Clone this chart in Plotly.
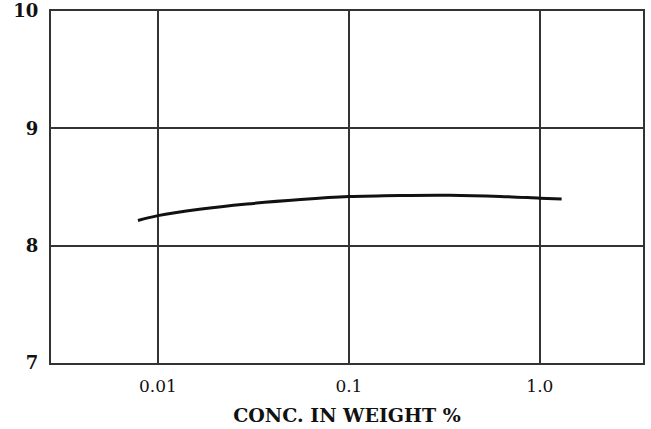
import plotly.graph_objects as go

conc = [0.00786, 0.01, 0.0165, 0.0292, 0.056, 0.1, 0.185, 0.338, 0.62, 1.0, 1.30]
value = [8.215, 8.256, 8.31, 8.355, 8.393, 8.418, 8.428, 8.43, 8.42, 8.405, 8.397]

x_ticks = [0.01, 0.1, 1.0]
x_tick_labels = ["0.01", "0.1", "1.0"]
y_ticks = [7, 8, 9, 10]
y_tick_labels = ["7", "8", "9", "10"]

fig = go.Figure()
fig.add_trace(go.Scatter(x=conc, y=value, mode="lines", line=dict(color="#111", width=3, shape="spline"),
                         showlegend=False, hoverinfo="skip", cliponaxis=False))

fig.update_layout(
    width=651, height=429,
    margin=dict(l=51, r=8, t=11, b=66, autoexpand=False),
    paper_bgcolor="white", plot_bgcolor="white",
    font=dict(family="DejaVu Serif", color="#111"),
    xaxis=dict(type="log", range=[-2.56, 0.54], tickvals=x_ticks, ticktext=x_tick_labels,
               showgrid=True, gridcolor="#333", gridwidth=1.5, showline=True, linecolor="#333",
               linewidth=2, mirror=True, ticks="", zeroline=False, automargin=False,
               ticklabelstandoff=7,
               tickfont=dict(size=17), title=dict(text="<b>CONC. IN WEIGHT %</b>",
                                                  font=dict(size=19), standoff=13)),
    yaxis=dict(range=[7, 10], tickvals=y_ticks, ticktext=y_tick_labels,
               showgrid=True, gridcolor="#333", gridwidth=1.5, showline=True, linecolor="#333",
               linewidth=2, mirror=True, ticks="", zeroline=False, automargin=False,
               ticklabelstandoff=7,
               ticklabeloverflow="allow", tickfont=dict(size=18, weight="bold")),
)

fig.write_html("out.html", config={"displayModeBar": False},
               post_script="document.body.style.margin='0';")
